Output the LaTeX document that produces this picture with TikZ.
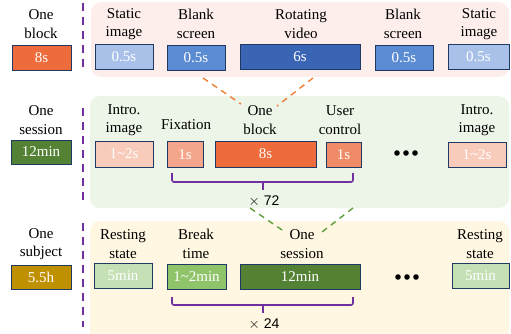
\documentclass[tikz,border=0pt]{standalone}
\usepackage{fontspec}
\setmainfont{Liberation Serif}
\newfontfamily\cntfont{Liberation Sans}
\usepackage{tikz}

\definecolor{bdr}{HTML}{203864}
\definecolor{purp}{HTML}{7030A0}
\definecolor{orng}{HTML}{EE6C3B}
\definecolor{staticc}{HTML}{A9C1E9}
\definecolor{blankc}{HTML}{5B8BD3}
\definecolor{videoc}{HTML}{3A64B4}
\definecolor{sessc}{HTML}{548235}
\definecolor{introc}{HTML}{F8CBBB}
\definecolor{fixc}{HTML}{F4A68C}
\definecolor{userc}{HTML}{F08B68}
\definecolor{subjc}{HTML}{BF9000}
\definecolor{restc}{HTML}{C5E0B4}
\definecolor{breakc}{HTML}{8FC46A}
\definecolor{pinkbg}{HTML}{FDEEEC}
\definecolor{greenbg}{HTML}{EDF4E8}
\definecolor{yellbg}{HTML}{FFF7E1}
\definecolor{orngdash}{HTML}{ED7D31}
\definecolor{grndash}{HTML}{5F9E3C}

\tikzset{
  blk/.style={draw=bdr, line width=0.8pt, text=white, inner sep=0pt,
    minimum height=25, font=\fontsize{15}{18}\selectfont},
  lbl/.style={align=center, inner sep=0pt, font=\fontsize{15}{18.5}\selectfont},
  panel/.style={rounded corners=10pt},
  sep/.style={purp, line width=2.4pt, dash pattern=on 8pt off 6pt},
  brace/.style={purp, line width=1.6pt, rounded corners=2pt},
  zoomline/.style={line width=1.4pt, dash pattern=on 6pt off 5pt},
}

\begin{document}
\begin{tikzpicture}[x=1pt,y=-1pt]
    \useasboundingbox (0,0) rectangle (511,333);
    \clip (0,0) rectangle (511,333);

    \fill[panel, pinkbg] (91,2) rectangle (509,77);
    \fill[panel, greenbg] (90,96) rectangle (509,208);
    \fill[panel, yellbg] (90,221) rectangle (509,345);

    \foreach \a/\b in {3/70, 108/200, 223/327}{\draw[sep] (83,\a) -- (83,\b);}

    % one block
    \node[lbl] (lb0) at (41,24) {One\\block};
    \node[blk, fill=orng, minimum width=59] (b0) at (41.5,57.5) {8s};
    \node[lbl] (lb1) at (124,24) {Static\\image};
    \node[blk, fill=staticc, minimum width=58] (b1) at (124,56.5) {0.5s};
    \node[lbl] (lb2) at (196,24) {Blank\\screen};
    \node[blk, fill=blankc, minimum width=58] (b2) at (196,57.5) {0.5s};
    \node[lbl] (lb3) at (301,24) {Rotating\\video};
    \node[blk, fill=videoc, minimum width=120] (b3) at (300,56.5) {6s};
    \node[lbl] (lb4) at (403,24) {Blank\\screen};
    \node[blk, fill=blankc, minimum width=58] (b4) at (404,57.5) {0.5s};
    \node[lbl] (lb5) at (479,24) {Static\\image};
    \node[blk, fill=staticc, minimum width=61] (b5) at (478.5,56.5) {0.5s};

    % one session
    \node[lbl] (ls0) at (41,120) {One\\session};
    \node[blk, fill=sessc, minimum width=60, minimum height=24] (s0) at (41,152) {12min};
    \node[lbl] (ls1) at (124,120) {Intro.\\image};
    \node[blk, fill=introc, minimum width=58, minimum height=26] (s1) at (124,154) {1\textasciitilde2s};
    \node[lbl] (ls2) at (186,125) {Fixation};
    \node[blk, fill=fixc, minimum width=36, minimum height=26] (s2) at (185,154.5) {1s};
    \node[lbl] (ls3) at (260,120) {One\\block};
    \node[blk, fill=orng, minimum width=101, minimum height=26] (s3) at (265.5,154) {8s};
    \node[lbl] (ls4) at (340,120) {User\\control};
    \node[blk, fill=userc, minimum width=35] (s4) at (343.5,154.5) {1s};
    \foreach \x in {397,406,415}{\fill (\x,153) circle (2.8);}
    \node[lbl] (ls5) at (477,120) {Intro.\\image};
    \node[blk, fill=introc, minimum width=58] (s5) at (477,154.5) {1\textasciitilde2s};

    % one subject
    \node[lbl] (lj0) at (41,244) {One\\subject};
    \node[blk, fill=subjc, minimum width=60, minimum height=24] (j0) at (41,277) {5.5h};
    \node[lbl] (lj1) at (123,244) {Resting\\state};
    \node[blk, fill=restc, minimum width=58] (j1) at (123,275.5) {5min};
    \node[lbl] (lj2) at (196,244) {Break\\time};
    \node[blk, fill=breakc, minimum width=59] (j2) at (196.5,276.5) {1\textasciitilde2min};
    \node[lbl] (lj3) at (302,244) {One\\session};
    \node[blk, fill=sessc, minimum width=120] (j3) at (300,276.5) {12min};
    \foreach \x in {398,407,416}{\fill (\x,277) circle (2.8);}
    \node[lbl] (lj4) at (480,244) {Resting\\state};
    \node[blk, fill=restc, minimum width=57] (j4) at (480.5,276) {5min};

    % repeat braces
    \draw[brace] (172,173) -- (172,182) -- (353,182) -- (353,173);
    \draw[brace] (263,182) -- (263,190);
    \node[font=\cntfont\fontsize{14}{16}\selectfont] (n72) at (264,201) {$\times$ 72};
    \draw[brace] (172,297) -- (172,305) -- (353,305) -- (353,297);
    \draw[brace] (263,305) -- (263,313);
    \node[font=\cntfont\fontsize{14}{16}\selectfont] (n24) at (264,324) {$\times$ 24};

    % zoom lines
    \coordinate (o1) at (203,78);
    \coordinate (o2) at (313,78);
    \coordinate (g1) at (250,208);
    \coordinate (g2) at (353,208);
    \draw[zoomline, orngdash] (o1) -- (241,104);
    \draw[zoomline, orngdash] (o2) -- (277,106);
    \draw[zoomline, grndash] (g1) -- (285,232);
    \draw[zoomline, grndash] (g2) -- (322,232);
\end{tikzpicture}
\end{document}
